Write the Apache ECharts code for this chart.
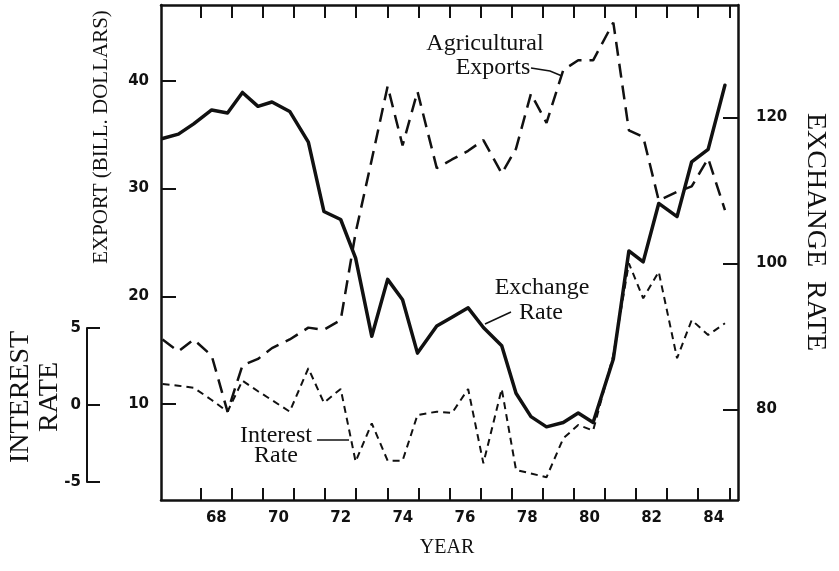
<!DOCTYPE html>
<html>
<head>
<meta charset="utf-8">
<script src="https://cdn.jsdelivr.net/npm/echarts@6/dist/echarts.min.js"></script>
<style>
  html, body { margin: 0; padding: 0; background: #fff; }
  #chart { width: 839px; height: 571px; }
</style>
</head>
<body>
<div id="chart"></div>
<script>
const YEARS = [1966.77, 1967.28, 1967.77, 1968.35, 1968.86, 1969.34, 1969.84, 1970.29, 1970.86,
  1971.46, 1971.96, 1972.50, 1972.98, 1973.50, 1974.01, 1974.49, 1974.97, 1975.59, 1976.08,
  1976.60, 1977.09, 1977.68, 1978.14, 1978.62, 1979.12, 1979.66, 1980.14, 1980.62, 1981.27,
  1981.77, 1982.23, 1982.73, 1983.32, 1983.79, 1984.32, 1984.86]

// exchange rate index (right axis)
const EXCHANGE_RATE = [117.1, 117.7, 119.1, 121.0, 120.6, 123.4, 121.5, 122.1, 120.8,
  116.6, 107.1, 106.0, 100.7, 90.0, 97.8, 95.0, 87.7, 91.4, 92.6,
  93.9, 91.2, 88.7, 82.2, 79.0, 77.6, 78.2, 79.5, 78.2, 86.9,
  101.7, 100.2, 108.2, 106.4, 113.9, 115.6, 124.4]

// agricultural exports, bill. dollars (left axis)
const AG_EXPORTS = [16.0, 14.9, 16.0, 14.5, 9.3, 13.6, 14.2, 15.2, 16.0,
  17.1, 16.9, 17.8, 25.9, 32.7, 39.5, 34.0, 39.0, 31.9, 32.7,
  33.5, 34.5, 31.4, 33.7, 38.8, 36.1, 41.0, 41.9, 41.9, 45.4,
  35.4, 34.8, 28.9, 29.7, 30.2, 32.8, 28.0]

// real interest rate, % (small bracket axis)
const INTEREST_RATE = [1.40, 1.29, 1.16, 0.36, -0.40, 1.62, 0.93, 0.35, -0.40,
  2.43, 0.18, 1.08, -3.66, -1.16, -3.60, -3.60, -0.62, -0.40, -0.49,
  1.08, -3.77, 1.08, -4.20, -4.43, -4.68, -2.14, -1.27, -1.63, 3.29,
  9.27, 6.99, 8.72, 3.08, 5.57, 4.60, 5.36]

const YEAR_TICKS = [1968, 1969, 1970, 1971, 1972, 1973, 1974, 1975, 1976, 1977, 1978,
  1979, 1980, 1981, 1982, 1983, 1984, 1985]
const YEAR_LABELS = [1968.5, 1970.5, 1972.5, 1974.5, 1976.5, 1978.5, 1980.5, 1982.5, 1984.5]
const EXPORT_TICKS = [10, 20, 30, 40]
const EXCHANGE_TICKS = [80, 100, 120]
const INTEREST_TICKS = [-5, 0, 5]

const ink = '#111'
const serif = '"Liberation Serif", "DejaVu Serif", serif'
const numFont = { fontFamily: '"DejaVu Sans", sans-serif', fontWeight: 'bold', fontSize: 15, color: ink }
const frameLine = { show: true, onZero: false, lineStyle: { color: ink, width: 2.5 } }

const pairs = (ys) => YEARS.map((x, i) => [x, ys[i]])

const chart = echarts.init(document.getElementById('chart'), null, { renderer: 'canvas' })

chart.setOption({
  animation: false,
  backgroundColor: '#fff',
  grid: [
    { left: 161, right: 101, top: 5, bottom: 71 },
    { left: 87, top: 328, height: 154, width: 10 },
  ],
  xAxis: [
    {
      type: 'value', gridIndex: 0, position: 'bottom', min: 1966.72, max: 1985.28,
      axisLine: frameLine,
      axisTick: { inside: true, length: 12, customValues: YEAR_TICKS, lineStyle: { color: ink, width: 2 } },
      axisLabel: Object.assign({ customValues: YEAR_LABELS, margin: 11,
        formatter: v => String(Math.floor(v)).slice(2) }, numFont),
      splitLine: { show: false },
    },
    {
      type: 'value', gridIndex: 0, position: 'top', min: 1966.72, max: 1985.28,
      axisLine: frameLine,
      axisTick: { inside: true, length: 13, customValues: YEAR_TICKS, lineStyle: { color: ink, width: 2 } },
      axisLabel: { show: false },
      splitLine: { show: false },
    },
    { type: 'value', gridIndex: 1, show: false, axisLine: { onZero: false } },
  ],
  yAxis: [
    {
      type: 'value', gridIndex: 0, position: 'left', min: 1.11, max: 47.03,
      axisLine: frameLine,
      axisTick: { inside: true, length: 15, customValues: EXPORT_TICKS, lineStyle: { color: ink, width: 2 } },
      axisLabel: Object.assign({ customValues: EXPORT_TICKS, margin: 12 }, numFont),
      splitLine: { show: false },
    },
    {
      type: 'value', gridIndex: 0, position: 'right', min: 67.58, max: 135.38,
      axisLine: frameLine,
      axisTick: { inside: true, length: 15, customValues: EXCHANGE_TICKS, lineStyle: { color: ink, width: 2 } },
      axisLabel: Object.assign({ customValues: EXCHANGE_TICKS, margin: 18 }, numFont),
      splitLine: { show: false },
    },
    { type: 'value', gridIndex: 0, min: -6.16, max: 26.11, show: false, axisLine: { onZero: false } },
    {
      type: 'value', gridIndex: 1, position: 'left', min: -5, max: 5,
      axisLine: { show: true, onZero: false, lineStyle: { color: ink, width: 2 } },
      axisTick: { inside: true, length: 13, customValues: INTEREST_TICKS, lineStyle: { color: ink, width: 2 } },
      axisLabel: Object.assign({ customValues: INTEREST_TICKS, margin: 6 }, numFont),
      splitLine: { show: false },
    },
  ],
  series: [
    {
      name: 'Exchange Rate', type: 'line', xAxisIndex: 0, yAxisIndex: 1,
      data: pairs(EXCHANGE_RATE), showSymbol: false, symbol: 'none',
      lineStyle: { color: ink, width: 3.5, join: 'round', cap: 'round' },
    },
    {
      name: 'Agricultural Exports', type: 'line', xAxisIndex: 0, yAxisIndex: 0,
      data: pairs(AG_EXPORTS), showSymbol: false, symbol: 'none',
      lineStyle: { color: ink, width: 2.5, type: [14, 8] },
    },
    {
      name: 'Interest Rate', type: 'line', xAxisIndex: 0, yAxisIndex: 2,
      data: pairs(INTEREST_RATE), showSymbol: false, symbol: 'none',
      lineStyle: { color: ink, width: 2, type: [7, 5] },
    },
  ],
  graphic: [
    { type: 'text', x: 101, y: 137, rotation: Math.PI / 2,
      style: { text: 'EXPORT (BILL. DOLLARS)', fontFamily: serif, fontSize: 21, fill: ink, align: 'center', verticalAlign: 'middle' } },
    { type: 'text', x: 21, y: 397, rotation: Math.PI / 2,
      style: { text: 'INTEREST', fontFamily: serif, fontSize: 28, fill: ink, align: 'center', verticalAlign: 'middle' } },
    { type: 'text', x: 50, y: 397, rotation: Math.PI / 2,
      style: { text: 'RATE', fontFamily: serif, fontSize: 28, fill: ink, align: 'center', verticalAlign: 'middle' } },
    { type: 'text', x: 815, y: 232, rotation: -Math.PI / 2,
      style: { text: 'EXCHANGE  RATE', fontFamily: serif, fontSize: 28, fill: ink, align: 'center', verticalAlign: 'middle' } },
    { type: 'text', x: 447, y: 548,
      style: { text: 'YEAR', fontFamily: serif, fontSize: 20, fill: ink, align: 'center', verticalAlign: 'middle' } },

    { type: 'text', x: 485, y: 44,
      style: { text: 'Agricultural', fontFamily: serif, fontSize: 24, fill: ink, align: 'center', verticalAlign: 'middle' } },
    { type: 'text', x: 493, y: 68,
      style: { text: 'Exports', fontFamily: serif, fontSize: 24, fill: ink, align: 'center', verticalAlign: 'middle' } },
    { type: 'polyline', shape: { points: [[531, 68], [550, 71], [562, 76]] },
      style: { stroke: ink, lineWidth: 1.5, fill: null } },

    { type: 'text', x: 542, y: 288,
      style: { text: 'Exchange', fontFamily: serif, fontSize: 24, fill: ink, align: 'center', verticalAlign: 'middle' } },
    { type: 'text', x: 541, y: 313,
      style: { text: 'Rate', fontFamily: serif, fontSize: 24, fill: ink, align: 'center', verticalAlign: 'middle' } },
    { type: 'line', shape: { x1: 511, y1: 312, x2: 485, y2: 324 },
      style: { stroke: ink, lineWidth: 1.5 } },

    { type: 'text', x: 276, y: 436,
      style: { text: 'Interest', fontFamily: serif, fontSize: 24, fill: ink, align: 'center', verticalAlign: 'middle' } },
    { type: 'text', x: 276, y: 456,
      style: { text: 'Rate', fontFamily: serif, fontSize: 24, fill: ink, align: 'center', verticalAlign: 'middle' } },
    { type: 'line', shape: { x1: 317, y1: 440, x2: 349, y2: 440 },
      style: { stroke: ink, lineWidth: 1.5 } },
  ],
})
</script>
</body>
</html>
